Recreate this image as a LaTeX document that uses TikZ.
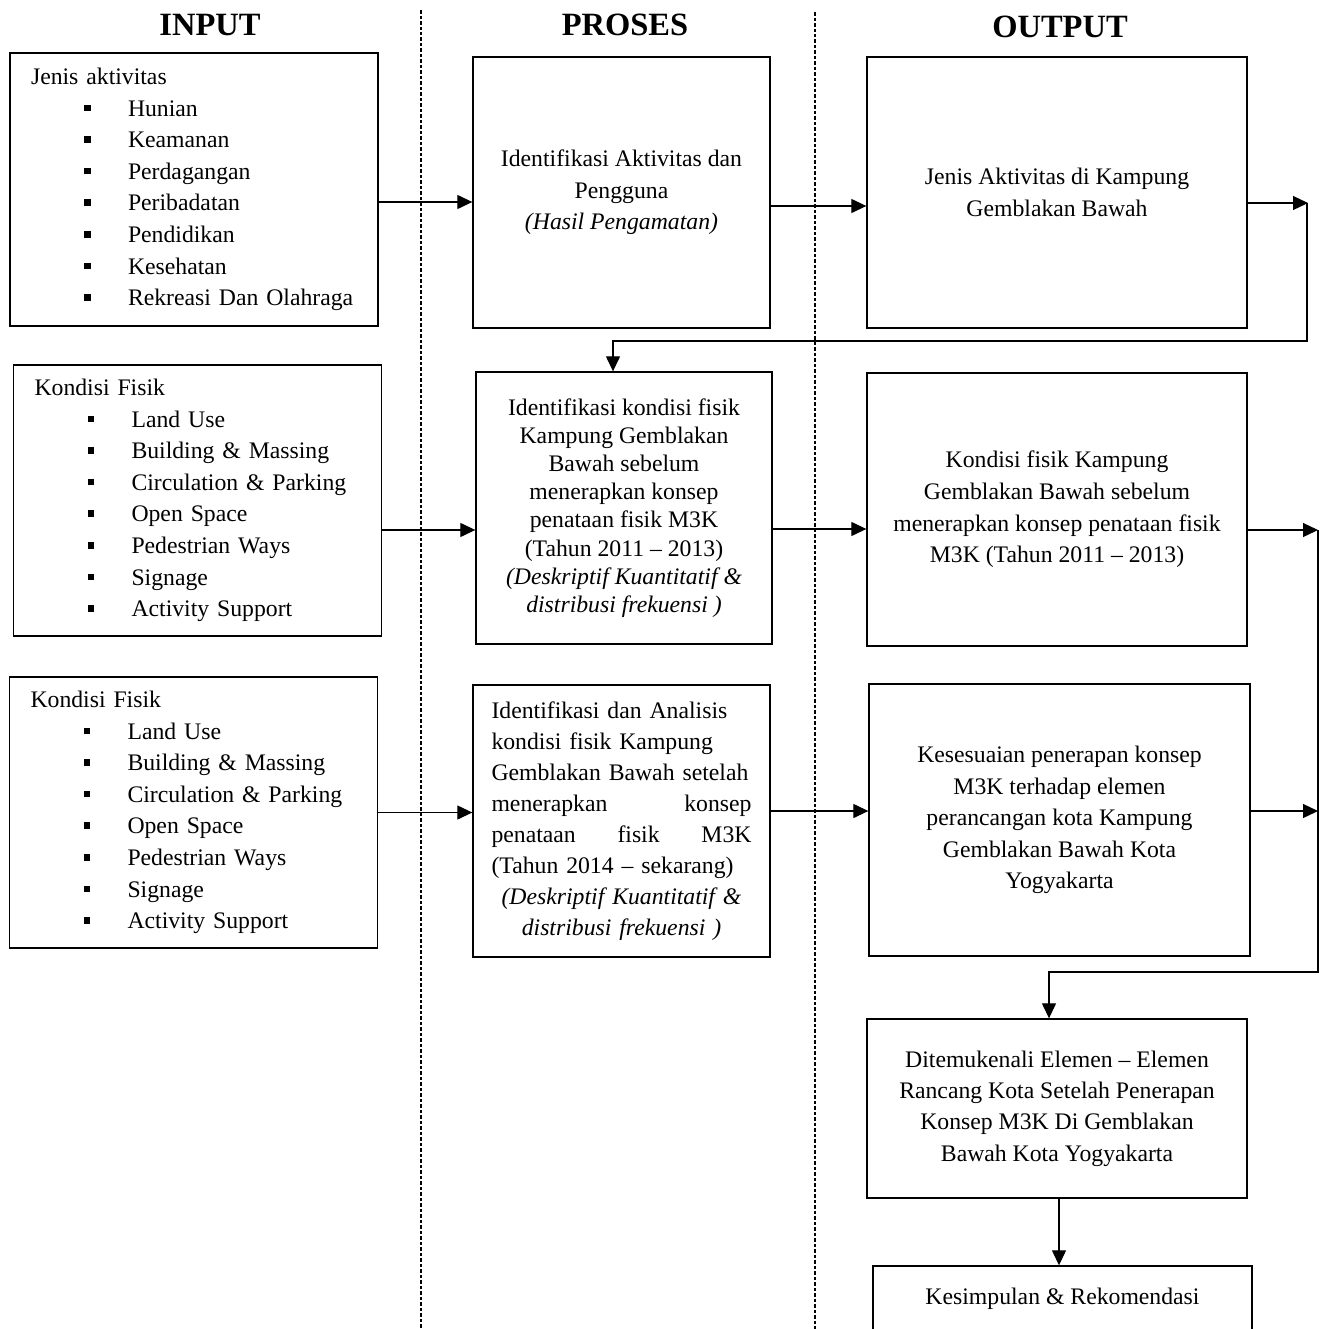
\documentclass[tikz,border=0pt]{standalone}
\usepackage{fontspec}
\setmainfont{Liberation Serif}
\usepackage{tikz}
\usetikzlibrary{positioning,arrows.meta}
\newcommand\sqbul{\hspace*{1.06cm}\rule[0.1cm]{0.13cm}{0.13cm}\hspace*{0.75cm}}

\begin{document}
\begin{tikzpicture}[x=0.02cm,y=-0.02cm,>={Triangle[length=3mm,width=2.8mm]},
  every node/.style={font=\fontsize{13.5pt}{18pt}\selectfont},
  title/.style={font=\fontsize{18.5pt}{22pt}\selectfont\bfseries},
  inbox/.style={draw,line width=0.8pt,align=left,text width=6.52cm,inner xsep=0.42cm,minimum height=5.42cm},
  procbox/.style={draw,line width=0.8pt,align=center,minimum width=5.94cm,minimum height=5.42cm},
  outbox/.style={draw,line width=0.8pt,align=center,minimum width=7.6cm,minimum height=5.44cm},
  flow/.style={->,line width=0.7pt},
  divider/.style={line width=0.7pt,dash pattern=on 0.07cm off 0.04cm}]
  \useasboundingbox (0,0) rectangle (1327,1329);
  % column headings and dividers
  \node[title] (tin) at (210,25) {INPUT};
  \node[title] (tpr) at (625,25) {PROSES};
  \node[title] (tout) at (1060,27) {OUTPUT};
  \draw[divider] (421,10) -- (421,1329);
  \draw[divider] (815,12) -- (815,1329);
  % input
  \node[inbox,minimum height=5.46cm] (in1) at (194,189.5) {Jenis aktivitas\\
    \sqbul Hunian\\ \sqbul Keamanan\\ \sqbul Perdagangan\\ \sqbul Peribadatan\\
    \sqbul Pendidikan\\ \sqbul Kesehatan\\ \sqbul Rekreasi Dan Olahraga};
  \node[inbox] (in2) at (197.5,500.5) {Kondisi Fisik\\
    \sqbul Land Use\\ \sqbul Building \& Massing\\ \sqbul Circulation \& Parking\\
    \sqbul Open Space\\ \sqbul Pedestrian Ways\\ \sqbul Signage\\ \sqbul Activity Support};
  \node[inbox] (in3) at (193.5,812.5) {Kondisi Fisik\\
    \sqbul Land Use\\ \sqbul Building \& Massing\\ \sqbul Circulation \& Parking\\
    \sqbul Open Space\\ \sqbul Pedestrian Ways\\ \sqbul Signage\\ \sqbul Activity Support};
  % proses
  \node[procbox] (pr1) at (621.5,192.5) {Identifikasi Aktivitas dan\\Pengguna\\
    \textit{(Hasil Pengamatan)}};
  \node[procbox,minimum width=5.92cm,minimum height=5.44cm,
    font=\fontsize{13.5pt}{16pt}\selectfont] (pr2) at (624,508) {Identifikasi kondisi fisik\\
    Kampung Gemblakan\\Bawah sebelum\\menerapkan konsep\\penataan fisik M3K\\
    (Tahun 2011 -- 2013)\\\textit{(Deskriptif Kuantitatif \&}\\\textit{distribusi frekuensi )}};
  \node[procbox,minimum height=5.44cm,align=left,text width=5.2cm,inner xsep=0.37cm,
    font=\fontsize{13.5pt}{17.6pt}\selectfont] (pr3) at (621.5,821)
    {\hyphenpenalty=10000\relax Identifikasi dan Analisis\\
    kondisi fisik Kampung\\Gemblakan Bawah setelah\\menerapkan\hfill konsep\\
    penataan\hfill fisik\hfill M3K\\(Tahun 2014 -- sekarang)\\
    \makebox[\linewidth]{\itshape (Deskriptif Kuantitatif \&}\\
    \makebox[\linewidth]{\itshape distribusi frekuensi )}};
  % output
  \node[outbox,minimum height=5.42cm] (out1) at (1057,192.5) {Jenis Aktivitas di Kampung\\
    Gemblakan Bawah};
  \node[outbox,minimum height=5.46cm] (out2) at (1057,509.5) {Kondisi fisik Kampung\\
    Gemblakan Bawah sebelum\\menerapkan konsep penataan fisik\\M3K (Tahun 2011 -- 2013)};
  \node[outbox,minimum width=7.62cm] (out3) at (1059.5,820) {Kesesuaian penerapan konsep\\
    M3K terhadap elemen\\perancangan kota Kampung\\Gemblakan Bawah Kota\\Yogyakarta};
  \node[outbox,minimum height=3.58cm,font=\fontsize{13.5pt}{17.8pt}\selectfont] (out4)
    at (1057,1108.5) {Ditemukenali Elemen -- Elemen\\Rancang Kota Setelah Penerapan\\
    Konsep M3K Di Gemblakan\\Bawah Kota Yogyakarta};
  \node[outbox,minimum width=7.58cm,minimum height=1.32cm] (out5) at (1062.5,1299)
    {Kesimpulan \& Rekomendasi};
  % connectors
  \coordinate (r1) at (1308,203);
  \coordinate (k1) at (613,341);
  \coordinate (r2) at (1318,530);
  \coordinate (r3) at (1318,811);
  \coordinate (k2) at (1049,972);
  \draw[flow] ([yshift=-0.25cm]in1.east) -- ([yshift=-0.25cm]in1.east -| pr1.west);
  \draw[flow] ([yshift=-0.27cm]pr1.east) -- ([yshift=-0.27cm]pr1.east -| out1.west);
  \draw[flow] (out1.east |- r1) -- (r1);
  \draw[flow] ([xshift=-0.02cm]r1) |- (k1) -- (k1 |- pr2.north);
  \draw[flow] ([yshift=-0.59cm]in2.east) -- ([yshift=-0.59cm]in2.east -| pr2.west);
  \draw[flow] ([yshift=-0.42cm]pr2.east) -- ([yshift=-0.42cm]pr2.east -| out2.west);
  \draw[flow] (out2.east |- r2) -- (r2);
  \draw[flow] (in3.east) -- (in3.east -| pr3.west);
  \draw[flow] ([yshift=0.2cm]pr3.east) -- ([yshift=0.2cm]pr3.east -| out3.west);
  \draw[flow] (out3.east |- r3) -- (r3);
  \draw[flow] (r2) |- (k2) -- (k2 |- out4.north);
  \draw[flow] ([xshift=0.04cm]out4.south) -- ([xshift=0.04cm]out4.south |- out5.north);
\end{tikzpicture}
\end{document}
